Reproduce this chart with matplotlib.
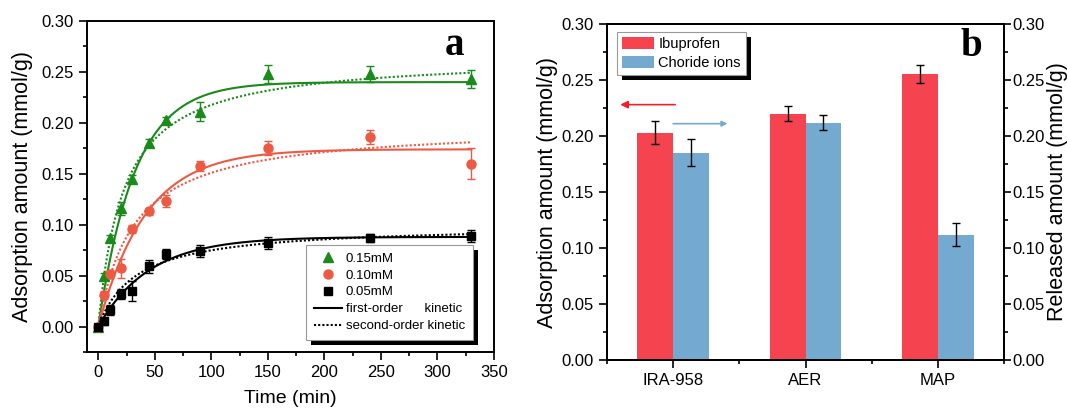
import numpy as np
import matplotlib.pyplot as plt
from matplotlib.lines import Line2D
from matplotlib.patches import Rectangle
from matplotlib.ticker import MultipleLocator

plt.rcParams['font.family'] = ['Liberation Sans', 'DejaVu Sans']
plt.rcParams['axes.linewidth'] = 1.4

# kinetics data (panel a)
time = [0, 5, 10, 20, 30, 45, 60, 90, 150, 240, 330]
q_015 = [0.000, 0.050, 0.087, 0.116, 0.145, 0.180, 0.203, 0.211, 0.248, 0.248, 0.243]
err_015 = [0.002, 0.003, 0.003, 0.006, 0.004, 0.004, 0.003, 0.009, 0.009, 0.008, 0.009]
q_010 = [0.000, 0.031, 0.052, 0.057, 0.096, 0.113, 0.123, 0.158, 0.175, 0.186, 0.160]
err_010 = [0.002, 0.004, 0.004, 0.009, 0.004, 0.003, 0.006, 0.005, 0.007, 0.007, 0.015]
q_005 = [0.000, 0.005, 0.016, 0.032, 0.035, 0.059, 0.071, 0.074, 0.082, 0.087, 0.089]
err_005 = [0.002, 0.003, 0.005, 0.005, 0.010, 0.006, 0.005, 0.006, 0.006, 0.004, 0.006]

# fitted kinetic parameters (qe, k)
pfo_015, pso_015 = (0.240, 0.031), (0.266, 0.169)
pfo_010, pso_010 = (0.174, 0.024), (0.198, 0.162)
pfo_005, pso_005 = (0.088, 0.022), (0.100, 0.298)

# resin comparison (panel b)
resins = ['IRA-958', 'AER', 'MAP']
ibuprofen = [0.203, 0.220, 0.255]
ibuprofen_err = [0.010, 0.007, 0.008]
chloride = [0.185, 0.212, 0.112]
chloride_err = [0.012, 0.007, 0.010]

GREEN = '#1a8a1a'
RED = '#ec5a44'
BAR_RED = '#f5444f'
BAR_BLUE = '#74a9d0'


def first_order(t, qe, k):
    return qe * (1 - np.exp(-k * t))


def second_order(t, qe, k):
    return qe * qe * k * t / (1 + qe * k * t)


def add_shadow(fig, ax, leg, dx=5, dy=5):
    fig.canvas.draw()
    bb = leg.get_frame().get_window_extent()
    shadow = Rectangle((bb.x0 + dx, bb.y0 - dy), bb.width, bb.height,
                       transform=None, facecolor='black', edgecolor='none',
                       zorder=leg.get_zorder() - 0.1, clip_on=False)
    ax.add_artist(shadow)


def style_ticks(ax, **kw):
    ax.tick_params(which='both', direction='out', width=1.2, labelsize=12, **kw)
    ax.tick_params(which='major', length=6)
    ax.tick_params(which='minor', length=3)


fig = plt.figure(figsize=(10.67, 4.12), dpi=100)
W, H = 1067, 412
ax1 = fig.add_axes([87 / W, 60 / H, 407 / W, 331 / H])
ax2 = fig.add_axes([607 / W, 52 / H, 397 / W, 336 / H])

# ---- panel a ----
tt = np.linspace(0, 330, 400)
series = [
    (q_015, err_015, pfo_015, pso_015, GREEN, '^', 7.5, '0.15mM'),
    (q_010, err_010, pfo_010, pso_010, RED, 'o', 6.5, '0.10mM'),
    (q_005, err_005, pfo_005, pso_005, 'black', 's', 5.5, '0.05mM'),
]
handles = []
for q, err, pfo, pso, c, m, ms, lab in series:
    ax1.plot(tt, first_order(tt, *pfo), color=c, lw=1.5, zorder=2)
    ax1.plot(tt, second_order(tt, *pso), color=c, lw=1.5, ls=(0, (1, 1)), zorder=2)
    ax1.errorbar(time, q, yerr=err, fmt=m, color=c, ms=ms, elinewidth=1,
                 capsize=3, capthick=1, zorder=3)
    handles.append(Line2D([], [], ls='none', marker=m, color=c, ms=ms, label=lab))
handles.append(Line2D([], [], color='black', lw=1.5, label='first-order      kinetic'))
handles.append(Line2D([], [], color='black', lw=1.5, ls=(0, (1, 1)), label='second-order kinetic'))

ax1.set_xlim(-10, 350)
ax1.set_ylim(-0.025, 0.30)
ax1.xaxis.set_major_locator(MultipleLocator(50))
ax1.xaxis.set_minor_locator(MultipleLocator(25))
ax1.yaxis.set_major_locator(MultipleLocator(0.05))
ax1.yaxis.set_minor_locator(MultipleLocator(0.025))
ax1.yaxis.set_major_formatter(plt.FormatStrFormatter('%.2f'))
style_ticks(ax1, top=False, right=False)
ax1.set_xlabel('Time (min)', fontsize=14)
ax1.set_ylabel('Adsorption amount (mmol/g)', fontsize=15.5)
ax1.xaxis.set_label_coords(0.5, -0.115)
ax1.yaxis.set_label_coords(-0.133, 0.5)
ax1.text(0.902, 0.927, 'a', transform=ax1.transAxes, ha='center', va='center',
         fontsize=28, fontweight='bold', family='Liberation Serif')

leg1 = ax1.legend(handles=handles, loc='lower right', bbox_to_anchor=(0.948, 0.036),
                  borderaxespad=0, fontsize=9.5, frameon=True, fancybox=False,
                  handlelength=2.1, labelspacing=0.35, handletextpad=0.3,
                  borderpad=0.6)
leg1.get_frame().set_edgecolor('0.6')
leg1.get_frame().set_linewidth(0.8)
leg1.get_frame().set_alpha(1)

# ---- panel b ----
x = np.arange(len(resins))
w = 0.27
ax2.bar(x - w / 2, ibuprofen, w, color=BAR_RED, label='Ibuprofen', zorder=2)
ax2.bar(x + w / 2, chloride, w, color=BAR_BLUE, label='Choride ions', zorder=2)
ax2.errorbar(x - w / 2, ibuprofen, yerr=ibuprofen_err, fmt='none', ecolor='black',
             elinewidth=1, capsize=3, capthick=1, zorder=3)
ax2.errorbar(x + w / 2, chloride, yerr=chloride_err, fmt='none', ecolor='black',
             elinewidth=1, capsize=3, capthick=1, zorder=3)

ax2.set_xlim(-0.5, 2.5)
ax2.set_ylim(0, 0.30)
ax2.set_xticks(x)
ax2.set_xticklabels(resins)
ax2.xaxis.set_minor_locator(MultipleLocator(0.5))
ax2.yaxis.set_major_locator(MultipleLocator(0.05))
ax2.yaxis.set_minor_locator(MultipleLocator(0.025))
ax2.yaxis.set_major_formatter(plt.FormatStrFormatter('%.2f'))
style_ticks(ax2, top=False, right=False)
ax2.set_ylabel('Adsorption amount (mmol/g)', fontsize=15.5)
ax2.yaxis.set_label_coords(-0.123, 0.5)

ax2r = ax2.twinx()
ax2r.set_ylim(0, 0.30)
ax2r.yaxis.set_major_locator(MultipleLocator(0.05))
ax2r.yaxis.set_minor_locator(MultipleLocator(0.025))
ax2r.yaxis.set_major_formatter(plt.FormatStrFormatter('%.2f'))
style_ticks(ax2r)
ax2r.tick_params(axis='y', which='major', length=5, pad=1)
ax2r.set_ylabel('Released amount (mmol/g)', fontsize=15.5)
ax2r.yaxis.set_label_coords(1.108, 0.5)

# arrows pointing to the matching axis
ax2.annotate('', xy=(-0.40, 0.228), xytext=(0.015, 0.228),
             arrowprops=dict(arrowstyle='-|>', color='#f0202a', lw=1.2,
                             mutation_scale=11, shrinkA=0, shrinkB=0))
ax2.annotate('', xy=(0.41, 0.211), xytext=(0.0, 0.211),
             arrowprops=dict(arrowstyle='-|>', color=BAR_BLUE, lw=1.2,
                             mutation_scale=8, shrinkA=0, shrinkB=0))
ax2.text(0.917, 0.932, 'b', transform=ax2.transAxes, ha='center', va='center',
         fontsize=28, fontweight='bold', family='Liberation Serif')

leg2 = ax2.legend(loc='upper left', bbox_to_anchor=(0.025, 0.976), borderaxespad=0,
                  fontsize=10.5, frameon=True, fancybox=False, handlelength=2.2,
                  handleheight=0.9, labelspacing=0.3, handletextpad=0.3,
                  borderpad=0.35)
leg2.get_frame().set_edgecolor('0.6')
leg2.get_frame().set_linewidth(0.8)
leg2.get_frame().set_alpha(1)

add_shadow(fig, ax1, leg1)
add_shadow(fig, ax2, leg2)

fig.savefig('out.png', dpi=100)
